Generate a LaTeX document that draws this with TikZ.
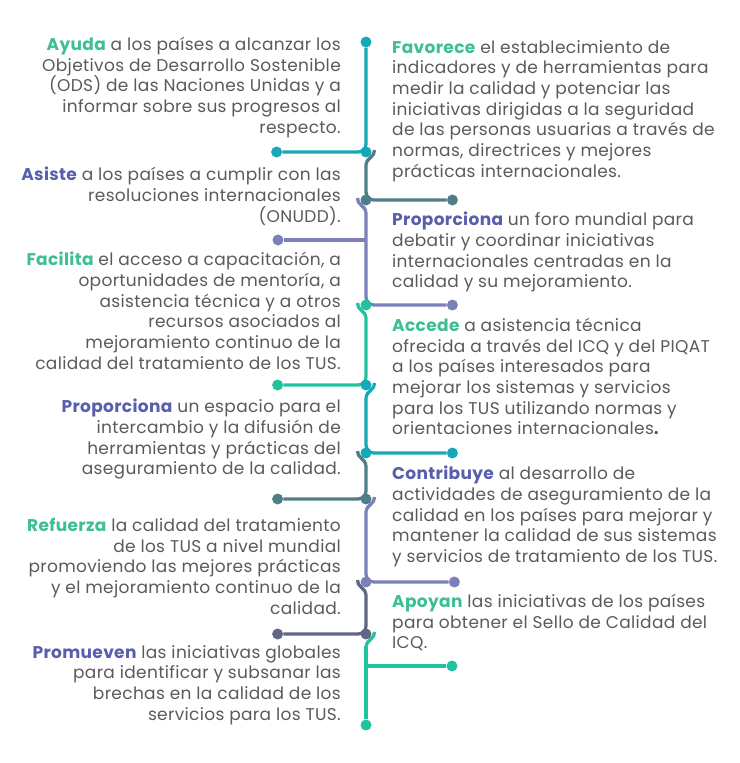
\documentclass[tikz,border=0pt]{standalone}
\usepackage{fontspec}
\setmainfont{Poppins}[LetterSpace=2]
\usepackage{tikz}
\usetikzlibrary{positioning, backgrounds}
\usepackage{xcolor}
\definecolor{cirteal}{RGB}{23, 168, 183}
\definecolor{cirslate}{RGB}{78, 126, 138}
\definecolor{cirpurple}{RGB}{124, 128, 185}
\definecolor{cirgreen}{RGB}{32, 195, 158}
\definecolor{cirnavy}{RGB}{95, 103, 133}
\definecolor{kwgreen}{RGB}{62, 190, 150}
\definecolor{kwpurple}{RGB}{88, 94, 172}
\definecolor{bodygray}{RGB}{90, 90, 90}
\newcommand{\kwg}[1]{{\bfseries\color{kwgreen}#1}}
\newcommand{\kwp}[1]{{\bfseries\color{kwpurple}#1}}

\begin{document}
\begin{tikzpicture}[x=1pt, y=-1pt,
    dot/.style={circle, fill=#1, inner sep=0pt, minimum size=11pt},
    wire/.style={line width=3.3pt, draw=#1, rounded corners=8pt},
    lhook/.style={line width=3.3pt, draw=#1},
    ltxt/.style={anchor=north east, align=right, inner sep=0pt, text=bodygray, font=\fontsize{17}{20.7}\selectfont},
    rtxt/.style={anchor=north west, align=left, inner sep=0pt, text=bodygray, font=\fontsize{17}{20.7}\selectfont}
  ]
  \useasboundingbox (0,0) rectangle (739,763);

  \node[dot=cirteal] (j0) at (366,42) {};
  \node[dot=cirteal] (j1) at (366,152) {};
  \node[dot=cirslate] (j2) at (366,200) {};
  \node[dot=cirgreen] (j3) at (366,305) {};
  \node[dot=cirteal] (j4) at (366,385) {};
  \node[dot=cirteal] (j5) at (366,453) {};
  \node[dot=cirslate] (j6) at (366,499) {};
  \node[dot=cirpurple] (j7) at (366,582) {};
  \node[dot=cirnavy] (j8) at (366,634) {};
  \node[dot=cirgreen] (j9) at (366,725) {};

  \node[dot=cirteal, left=78pt of j1] (e1) {};
  \node[dot=cirslate, right=75pt of j2] (e2) {};
  \node[dot=cirpurple, left=88pt of j2.center, yshift=-40pt, anchor=center] (e3a) {};
  \node[dot=cirpurple, right=75pt of j3] (e3) {};
  \node[dot=cirgreen, left=77pt of j4] (e4) {};
  \node[dot=cirteal, right=75pt of j5] (e5) {};
  \node[dot=cirslate, left=77pt of j6] (e6) {};
  \node[dot=cirpurple, right=77pt of j7] (e7) {};
  \node[dot=cirnavy, left=77pt of j8] (e8) {};
  \node[dot=cirgreen, right=86pt of j9.center, yshift=59pt, anchor=center] (e9) {};

  \begin{scope}[on background layer]
  \draw[wire=cirteal] (j0) |- (e1);
  \draw[lhook=cirslate] (j1) ++(8.5,-2) .. controls +(1,6) and +(0,-5) .. ++(-8.5,14);
  \draw[wire=cirslate] (j1) ++(0,12) |- (e2);
  \draw[lhook=cirpurple] (j2) ++(-8.5,-2) .. controls +(-1,6) and +(0,-5) .. ++(8.5,14);
  \draw[wire=cirpurple] (j2) ++(0,12) |- (e3);
  \draw[wire=cirpurple] (e3a) -- (e3a -| j2);
  \draw[lhook=cirgreen] (j3) ++(-8.5,-2) .. controls +(-1,6) and +(0,-5) .. ++(8.5,14);
  \draw[wire=cirgreen] (j3) ++(0,12) |- (e4);
  \draw[lhook=cirteal] (j4) ++(8.5,-2) .. controls +(1,6) and +(0,-5) .. ++(-8.5,14);
  \draw[wire=cirteal] (j4) ++(0,12) |- (e5);
  \draw[lhook=cirslate] (j5) ++(-8.5,-2) .. controls +(-1,6) and +(0,-5) .. ++(8.5,14);
  \draw[wire=cirslate] (j5) ++(0,12) |- (e6);
  \draw[lhook=cirpurple] (j6) ++(8.5,-2) .. controls +(1,6) and +(0,-5) .. ++(-8.5,14);
  \draw[wire=cirpurple] (j6) ++(0,12) |- (e7);
  \draw[lhook=cirnavy] (j7) ++(-8.5,-2) .. controls +(-1,6) and +(0,-5) .. ++(8.5,14);
  \draw[wire=cirnavy] (j7) ++(0,12) |- (e8);
  \draw[lhook=cirgreen] (j8) ++(8.5,-2) .. controls +(1,6) and +(0,-5) .. ++(-8.5,14);
  \draw[wire=cirgreen] (j8) ++(0,12) -- (j9);
  \draw[wire=cirgreen] (e9) -- (e9 -| j9);
  \end{scope}

  \node[ltxt] (ayuda) at (341,37) {\kwg{Ayuda} a los países a alcanzar los\\Objetivos de Desarrollo Sostenible\\(ODS) de las Naciones Unidas y a\\informar sobre sus progresos al\\respecto.};
  \node[ltxt] (asiste) at (341,167) {\kwp{Asiste} a los países a cumplir con las\\resoluciones internacionales\\(ONUDD).};
  \node[ltxt] (facilita) at (341,252) {\kwg{Facilita} el acceso a capacitación, a\\oportunidades de mentoría, a\\asistencia técnica y a otros\\recursos asociados al\\mejoramiento continuo de la\\calidad del tratamiento de los TUS.};
  \node[ltxt] (espacio) at (341,399) {\kwp{Proporciona} un espacio para el\\intercambio y la difusión de\\herramientas y prácticas del\\aseguramiento de la calidad.};
  \node[ltxt] (refuerza) at (341,518) {\kwg{Refuerza} la calidad del tratamiento\\de los TUS a nivel mundial\\promoviendo las mejores prácticas\\y el mejoramiento continuo de la\\calidad.};
  \node[ltxt] (promueven) at (341,645) {\kwp{Promueven} las iniciativas globales\\para identificar y subsanar las\\brechas en la calidad de los\\servicios para los TUS.};

  \node[rtxt] (favorece) at (392,40) {\kwg{Favorece} el establecimiento de\\indicadores y de herramientas para\\medir la calidad y potenciar las\\iniciativas dirigidas a la seguridad\\de las personas usuarias a través de\\normas, directrices y mejores\\prácticas internacionales.};
  \node[rtxt] (foro) at (392,212) {\kwp{Proporciona} un foro mundial para\\debatir y coordinar iniciativas\\internacionales centradas en la\\calidad y su mejoramiento.};
  \node[rtxt] (accede) at (392,318) {\kwg{Accede} a asistencia técnica\\ofrecida a través del ICQ y del PIQAT\\a los países interesados para\\mejorar los sistemas y servicios\\para los TUS utilizando normas y\\orientaciones internacionales{\bfseries.}};
  \node[rtxt] (contribuye) at (392,466) {\kwp{Contribuye} al desarrollo de\\actividades de aseguramiento de la\\calidad en los países para mejorar y\\mantener la calidad de sus sistemas\\y servicios de tratamiento de los TUS.};
  \node[rtxt] (apoyan) at (392,594) {\kwg{Apoyan} las iniciativas de los países\\para obtener el Sello de Calidad del\\ICQ.};
\end{tikzpicture}
\end{document}
